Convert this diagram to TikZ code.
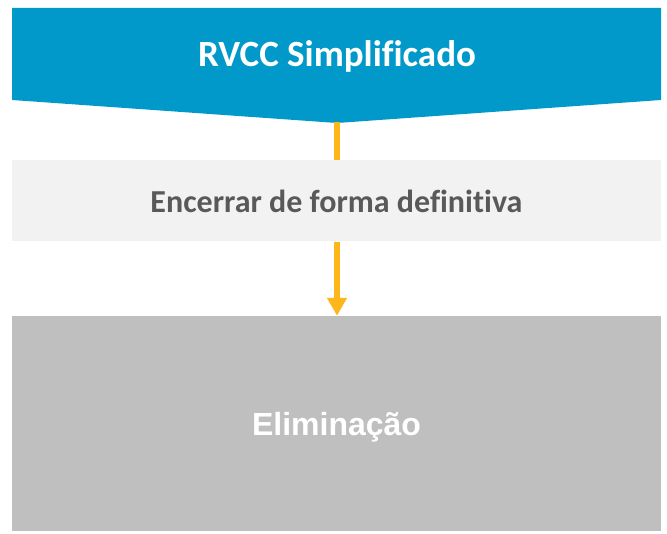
\documentclass[tikz,border=0pt]{standalone}
\usepackage{fontspec}
\setmainfont{Carlito}[Ligatures=NoCommon]
\newfontfamily\rvArial{Liberation Sans}
\usetikzlibrary{arrows.meta,calc,positioning}
\definecolor{rvBlue}{HTML}{0099C9}
\definecolor{rvOrange}{HTML}{FDB71A}
\definecolor{rvPanel}{HTML}{F2F2F2}
\definecolor{rvGray}{HTML}{BFBFBF}
\definecolor{rvInk}{HTML}{595959}
\tikzset{
  titleText/.style={font=\fontsize{37}{40}\selectfont\bfseries, text=white,
    inner sep=0pt},
  stageBox/.style={rectangle, fill=rvPanel, minimum width=649pt,
    minimum height=81pt, inner sep=0pt, text=rvInk,
    font=\fontsize{32}{35}\selectfont\bfseries},
  endBox/.style={rectangle, fill=rvGray, minimum width=649pt,
    minimum height=215pt, inner sep=0pt, text=white, text depth=0pt,
    font=\rvArial\fontsize{32}{35}\selectfont\bfseries},
  flowLink/.style={draw=rvOrange, line width=6pt},
  flowArrow/.style={flowLink, -{Triangle[length=18pt,width=19pt]}},
}

\begin{document}
\begin{tikzpicture}[x=1pt,y=-1pt]
  \useasboundingbox (0,0) rectangle (667,534);

  % Pointed banner on top.
  \fill[rvBlue] (12,8) -- (661,8) -- (661,100) -- (337,123) -- (12,100) -- cycle;
  \node[titleText] (title) at (337,56) {RVCC Simplificado};
  \coordinate (tip) at (337,122);

  % Step and result.
  \node[stageBox] (stage) at (336.5,201) {Encerrar de forma definitiva};
  \node[endBox] (result) at (336.5,423.5) {Eliminação};

  \draw[flowLink] (tip) -- (stage.north -| tip);
  \draw[flowArrow] (stage.south -| tip) -- (result.north -| tip);
\end{tikzpicture}
\end{document}
